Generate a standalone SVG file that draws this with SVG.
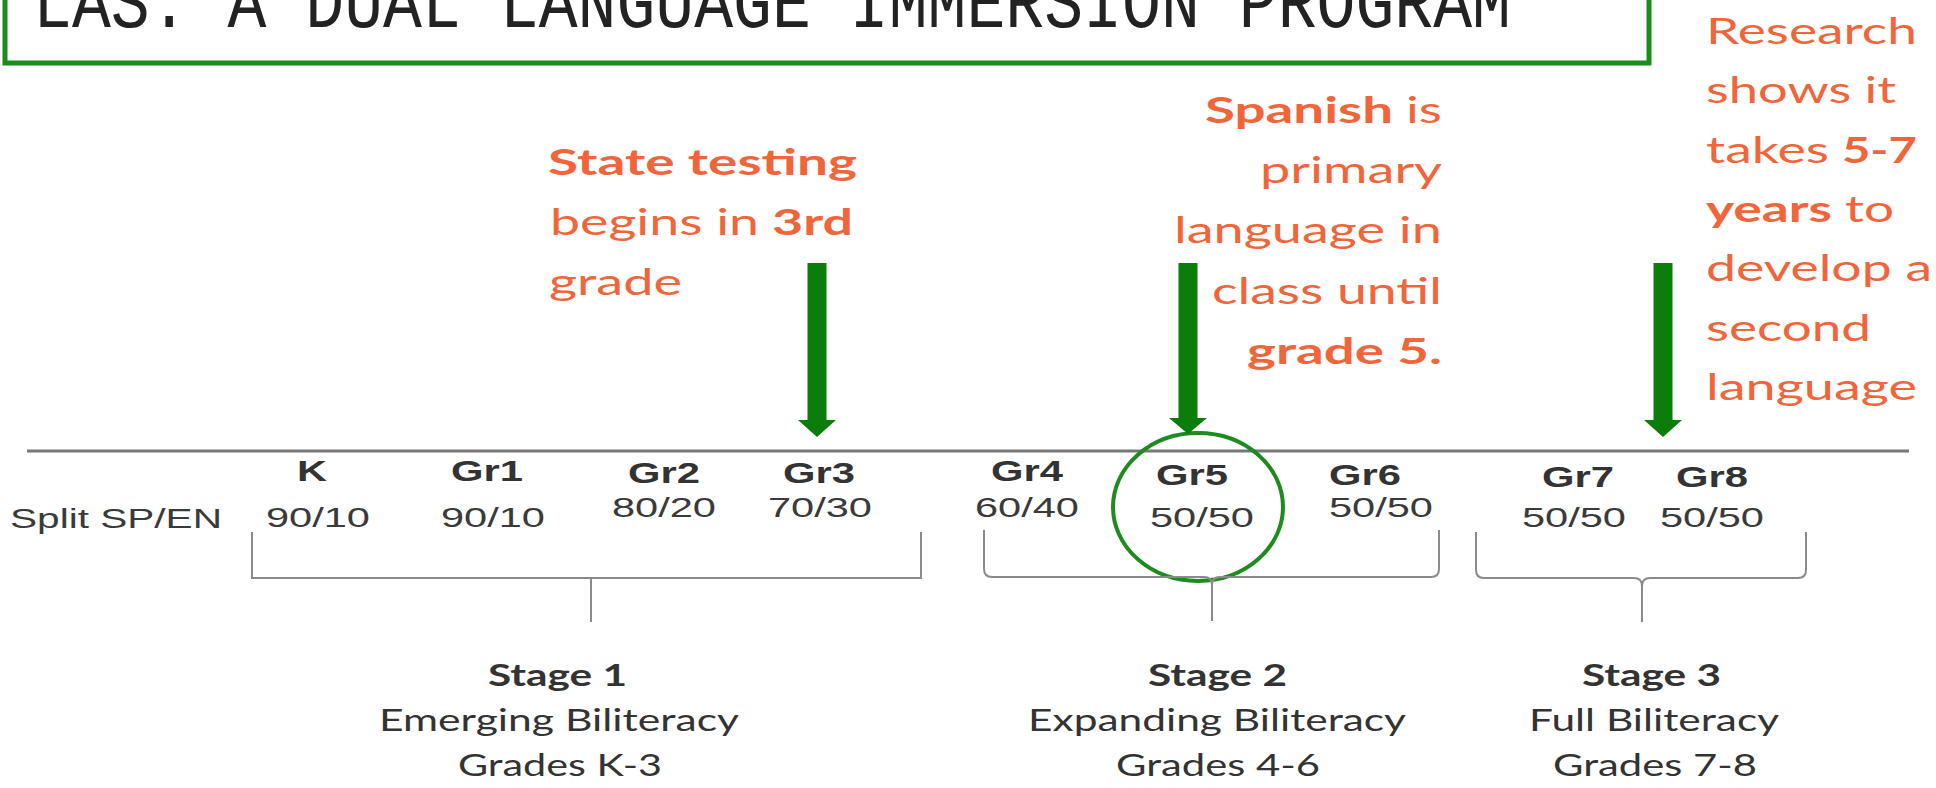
<svg xmlns="http://www.w3.org/2000/svg" width="1936" height="788" viewBox="0 0 1936 788">
<style>
.title{font-family:"Liberation Mono","DejaVu Sans Mono",monospace;font-size:60px;fill:#222}
.note{font-family:Lato,"Open Sans",sans-serif;font-size:37px;fill:#f0663a}
.b{font-weight:bold}
.lbl{font-family:"Liberation Sans",Arial,sans-serif;font-weight:bold;font-size:30px;fill:#333}
.ratio{font-family:"Liberation Sans",Arial,sans-serif;font-size:27px;fill:#3a3a3a}
.stage{font-family:Lato,"Open Sans",sans-serif;font-size:30px;fill:#333}
.arrow{fill:#0b7d0b}
.brk{fill:none;stroke:#8a8a8a;stroke-width:2}
</style>
<rect width="1936" height="788" fill="#fff"/>
<g id="title">
<rect x="5" y="-30" width="1644" height="93" fill="none" stroke="#1a8c1a" stroke-width="5"/>
<text class="title" transform="translate(33,27) scale(1,1.27)" x="0" y="0" textLength="1478" lengthAdjust="spacingAndGlyphs">LAS: A DUAL LANGUAGE IMMERSION PROGRAM</text>
</g>
<g id="note-testing" class="note">
<text class="b" x="548" y="175" textLength="309" lengthAdjust="spacingAndGlyphs">State testing</text>
<text y="235"><tspan x="550" textLength="209" lengthAdjust="spacingAndGlyphs">begins in</tspan><tspan class="b" x="772" textLength="81" lengthAdjust="spacingAndGlyphs">3rd</tspan></text>
<text x="549" y="295" textLength="133" lengthAdjust="spacingAndGlyphs">grade</text>
</g>
<g id="note-spanish" class="note">
<text y="123"><tspan class="b" x="1205" textLength="188" lengthAdjust="spacingAndGlyphs">Spanish</tspan><tspan x="1406" textLength="36" lengthAdjust="spacingAndGlyphs">is</tspan></text>
<text x="1260" y="183" textLength="182" lengthAdjust="spacingAndGlyphs">primary</text>
<text x="1174" y="243" textLength="268" lengthAdjust="spacingAndGlyphs">language in</text>
<text x="1212" y="304" textLength="230" lengthAdjust="spacingAndGlyphs">class until</text>
<text class="b" x="1247" y="364" textLength="195" lengthAdjust="spacingAndGlyphs">grade 5.</text>
</g>
<g id="note-research" class="note">
<text x="1706" y="44" textLength="211" lengthAdjust="spacingAndGlyphs">Research</text>
<text x="1706" y="103" textLength="190" lengthAdjust="spacingAndGlyphs">shows it</text>
<text y="163"><tspan x="1706" textLength="123" lengthAdjust="spacingAndGlyphs">takes</tspan><tspan class="b" x="1842" textLength="75" lengthAdjust="spacingAndGlyphs">5-7</tspan></text>
<text y="222"><tspan class="b" x="1706" textLength="126" lengthAdjust="spacingAndGlyphs">years</tspan><tspan x="1845" textLength="49" lengthAdjust="spacingAndGlyphs">to</tspan></text>
<text x="1706" y="281" textLength="226" lengthAdjust="spacingAndGlyphs">develop a</text>
<text x="1706" y="341" textLength="165" lengthAdjust="spacingAndGlyphs">second</text>
<text x="1706" y="400" textLength="211" lengthAdjust="spacingAndGlyphs">language</text>
</g>
<g id="timeline">
<line x1="27" y1="451" x2="1909" y2="451" stroke="#777" stroke-width="3"/>
<text class="ratio" x="10" y="528" textLength="212" lengthAdjust="spacingAndGlyphs">Split SP/EN</text>
</g>
<g id="grade-k"><text class="lbl" x="297" y="481" textLength="30" lengthAdjust="spacingAndGlyphs">K</text><text class="ratio" x="266" y="527" textLength="104" lengthAdjust="spacingAndGlyphs">90/10</text></g>
<g id="grade-1"><text class="lbl" x="451" y="481" textLength="72" lengthAdjust="spacingAndGlyphs">Gr1</text><text class="ratio" x="441" y="527" textLength="104" lengthAdjust="spacingAndGlyphs">90/10</text></g>
<g id="grade-2"><text class="lbl" x="628" y="483" textLength="72" lengthAdjust="spacingAndGlyphs">Gr2</text><text class="ratio" x="612" y="517" textLength="104" lengthAdjust="spacingAndGlyphs">80/20</text></g>
<g id="grade-3"><text class="lbl" x="783" y="483" textLength="72" lengthAdjust="spacingAndGlyphs">Gr3</text><text class="ratio" x="768" y="517" textLength="104" lengthAdjust="spacingAndGlyphs">70/30</text></g>
<g id="grade-4"><text class="lbl" x="991" y="481" textLength="72" lengthAdjust="spacingAndGlyphs">Gr4</text><text class="ratio" x="975" y="517" textLength="104" lengthAdjust="spacingAndGlyphs">60/40</text></g>
<g id="grade-5"><text class="lbl" x="1156" y="485" textLength="72" lengthAdjust="spacingAndGlyphs">Gr5</text><text class="ratio" x="1150" y="527" textLength="104" lengthAdjust="spacingAndGlyphs">50/50</text>
<ellipse cx="1198" cy="507" rx="85" ry="74" fill="none" stroke="#1f8b1f" stroke-width="4"/></g>
<g id="grade-6"><text class="lbl" x="1329" y="485" textLength="72" lengthAdjust="spacingAndGlyphs">Gr6</text><text class="ratio" x="1329" y="517" textLength="104" lengthAdjust="spacingAndGlyphs">50/50</text></g>
<g id="grade-7"><text class="lbl" x="1542" y="487" textLength="72" lengthAdjust="spacingAndGlyphs">Gr7</text><text class="ratio" x="1522" y="527" textLength="104" lengthAdjust="spacingAndGlyphs">50/50</text></g>
<g id="grade-8"><text class="lbl" x="1676" y="487" textLength="72" lengthAdjust="spacingAndGlyphs">Gr8</text><text class="ratio" x="1660" y="527" textLength="104" lengthAdjust="spacingAndGlyphs">50/50</text></g>
<g id="stage-1" class="stage">
<text class="b" x="488" y="686" textLength="139" lengthAdjust="spacingAndGlyphs">Stage 1</text>
<text x="379" y="731" textLength="360" lengthAdjust="spacingAndGlyphs">Emerging Biliteracy</text>
<text x="458" y="776" textLength="204" lengthAdjust="spacingAndGlyphs">Grades K-3</text>
</g>
<g id="stage-2" class="stage">
<text class="b" x="1148" y="686" textLength="139" lengthAdjust="spacingAndGlyphs">Stage 2</text>
<text x="1028" y="731" textLength="378" lengthAdjust="spacingAndGlyphs">Expanding Biliteracy</text>
<text x="1116" y="776" textLength="204" lengthAdjust="spacingAndGlyphs">Grades 4-6</text>
</g>
<g id="stage-3" class="stage">
<text class="b" x="1582" y="686" textLength="139" lengthAdjust="spacingAndGlyphs">Stage 3</text>
<text x="1529" y="731" textLength="250" lengthAdjust="spacingAndGlyphs">Full Biliteracy</text>
<text x="1553" y="776" textLength="204" lengthAdjust="spacingAndGlyphs">Grades 7-8</text>
</g>
<g id="connectors">
<polygon class="arrow" points="807.5,263 826.5,263 826.5,420 836,420 817,437 798,420 807.5,420"/>
<polygon class="arrow" points="1178.5,263 1197.5,263 1197.5,418 1207,418 1188,434 1169,418 1178.5,418"/>
<polygon class="arrow" points="1653.5,263 1672.5,263 1672.5,420 1682,420 1663,437 1644,420 1653.5,420"/>
<path class="brk" d="M252,532 V578 H921 V532 M591,578 V622"/>
<path class="brk" d="M984,530 V569 Q984,577 992,577 H1204 Q1212,577 1212,585 Q1212,577 1220,577 H1431 Q1439,577 1439,569 V530 M1212,585 V621"/>
<path class="brk" d="M1476,532 V570 Q1476,578 1484,578 H1634 Q1642,578 1642,586 Q1642,578 1650,578 H1798 Q1806,578 1806,570 V532 M1642,586 V622"/>
</g>
</svg>
